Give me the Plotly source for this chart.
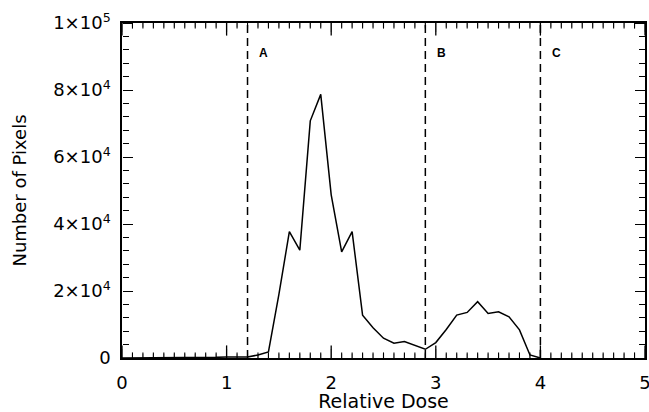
import plotly.graph_objects as go

dose = [0.0, 0.1, 0.2, 0.3, 0.4, 0.5, 0.6, 0.7, 0.8, 0.9, 1.0, 1.1, 1.2, 1.3, 1.4,
        1.5, 1.6, 1.7, 1.8, 1.9, 2.0, 2.1, 2.2, 2.3, 2.4, 2.5, 2.6, 2.7, 2.8, 2.9,
        3.0, 3.1, 3.2, 3.3, 3.4, 3.5, 3.6, 3.7, 3.8, 3.9, 4.0]
pixels = [0, 0, 0, 0, 0, 0, 0, 0, 200, 200, 300, 300, 300, 900, 1800,
          19000, 37700, 32200, 70800, 78700, 48700, 31700, 37700, 12800, 9000, 5900, 4400, 4900, 3800, 2600,
          4600, 8500, 12800, 13600, 16800, 13300, 13800, 12300, 8400, 900, 0]

region_x = [1.2, 2.9, 4.0]
region_labels = ["A", "B", "C"]

x_tickvals = [0, 1, 2, 3, 4, 5]
x_ticktext = ["0", "1", "2", "3", "4", "5"]
y_tickvals = [0, 20000, 40000, 60000, 80000, 100000]
y_ticktext = ["0", "2×10<sup>4</sup>", "4×10<sup>4</sup>", "6×10<sup>4</sup>",
              "8×10<sup>4</sup>", "1×10<sup>5</sup>"]
x_range = [0, 5]
y_range = [0, 100000]
x_minor_step = 0.1
y_minor_step = 4000

fig = go.Figure()
for xv in region_x:
    fig.add_trace(go.Scatter(x=[xv, xv], y=y_range, mode="lines",
                             line=dict(color="black", width=1.5, dash="8px,5px"),
                             showlegend=False, hoverinfo="skip"))
fig.add_trace(go.Scatter(x=dose, y=pixels, mode="lines",
                         line=dict(color="black", width=1.5), showlegend=False))
# invisible traces so that the tick-only helper y axes get drawn
fig.add_trace(go.Scatter(x=[x_range[0]], y=[y_range[0]], yaxis="y2", mode="markers",
                         marker=dict(size=1, opacity=0), showlegend=False, hoverinfo="skip"))
fig.add_trace(go.Scatter(x=[x_range[0]], y=[y_range[0]], yaxis="y3", mode="markers",
                         marker=dict(size=1, opacity=0), showlegend=False, hoverinfo="skip"))

for xv, lab in zip(region_x, region_labels):
    fig.add_annotation(x=xv + 0.09, y=91000, text="<b>" + lab + "</b>", showarrow=False,
                       xanchor="left", yanchor="middle",
                       font=dict(family="Liberation Sans, Arial", size=12, color="black"))

# x-axis tick marks (inside, bottom and top edges), placed on the x scale
n_minor = int(round((x_range[1] - x_range[0]) / x_minor_step))
major_pos, minor_pos = [], []
for i in range(n_minor + 1):
    xv = round(x_range[0] + i * x_minor_step, 6)
    if any(abs(xv - t) < 1e-9 for t in x_tickvals):
        major_pos.append(xv)
    else:
        minor_pos.append(xv)

for pos, size, wd in [(major_pos, 18, 1.3), (minor_pos, 8, 1.1)]:
    for edge in y_range:
        fig.add_trace(go.Scatter(x=pos, y=[edge] * len(pos), mode="markers", cliponaxis=True,
                                 marker=dict(symbol="line-ns-open", size=size, color="black",
                                             line=dict(color="black", width=wd)),
                                 showlegend=False, hoverinfo="skip"))
    for xv in pos:
        for anchor, sign in [(0, 1), (1, -1)]:
            fig.add_shape(type="line", xref="x", yref="paper", x0=xv, x1=xv,
                          ysizemode="pixel", yanchor=anchor, y0=0, y1=sign * size / 2,
                          line=dict(color="black", width=wd), layer="above")

fnt = dict(family="DejaVu Sans, Liberation Sans", size=18, color="black")


def y_tick_axis(side, pos):
    return dict(range=y_range, overlaying="y", anchor="free", position=pos, side=side,
                automargin=False, showgrid=False, zeroline=False, showline=False,
                showticklabels=False, tickmode="array", tickvals=y_tickvals,
                ticks="outside", ticklen=10, tickwidth=1.2, tickcolor="black",
                minor=dict(tickmode="linear", tick0=0, dtick=y_minor_step, ticks="outside", ticklen=6,
                           tickcolor="black", tickwidth=1, showgrid=False))


fig.update_layout(
    template="simple_white",
    width=649, height=412,
    margin=dict(l=122, r=4, t=23, b=54, autoexpand=False),
    paper_bgcolor="white", plot_bgcolor="white",
    font=fnt,
    xaxis=dict(range=x_range, tickmode="array", tickvals=x_tickvals, ticktext=x_ticktext,
               automargin=False, ticklabeloverflow="allow", ticklabelstandoff=8,
               showgrid=False, zeroline=False, showline=True, linecolor="black", linewidth=1.5,
               mirror=True, ticks="",
               title=dict(text="Relative Dose", font=dict(size=19), standoff=5),
               tickfont=dict(size=18)),
    yaxis=dict(range=y_range, tickmode="array", tickvals=y_tickvals, ticktext=y_ticktext,
               automargin=False, ticklabeloverflow="allow", ticklabelstandoff=6,
               showgrid=False, zeroline=False, showline=True, linecolor="black", linewidth=1.5,
               mirror=True, ticks="",
               title=dict(text="Number of Pixels", font=dict(size=18), standoff=22),
               tickfont=dict(size=18)),
    yaxis2=y_tick_axis("right", 0),
    yaxis3=y_tick_axis("left", 1),
)
fig.write_html("out.html", config={"displayModeBar": False},
               post_script="document.body.style.margin='0';document.body.style.padding='0';")
